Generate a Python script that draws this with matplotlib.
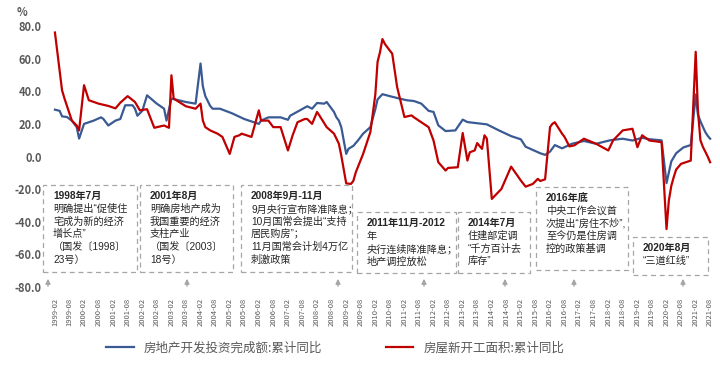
import numpy as np
import pandas as pd
import matplotlib
matplotlib.use("Agg")
import matplotlib.pyplot as plt
from matplotlib.patches import Rectangle, FancyArrowPatch

plt.rcParams['font.family'] = ['Noto Sans CJK SC', 'DejaVu Sans']
plt.rcParams['axes.unicode_minus'] = False

#### data ####
# 房地产开发投资完成额:累计同比 (blue)
inv_dates = ['1999-02', '1999-04', '1999-05', '1999-07', '1999-09', '1999-11', '1999-12',
             '2000-02', '2000-06', '2000-09', '2000-10', '2000-12', '2001-03', '2001-05',
             '2001-07', '2001-10', '2001-11', '2001-12', '2002-02', '2002-04', '2002-08',
             '2002-11', '2002-12', '2003-02', '2003-05', '2003-08', '2003-12', '2004-02',
             '2004-03', '2004-04', '2004-06', '2004-07', '2004-10', '2005-03', '2005-08',
             '2005-12', '2006-02', '2006-03', '2006-06', '2006-11', '2007-02', '2007-03',
             '2007-07', '2007-10', '2007-12', '2008-02', '2008-05', '2008-06', '2008-09',
             '2008-10', '2008-11', '2008-12', '2009-02', '2009-03', '2009-05', '2009-07',
             '2009-09', '2009-12', '2010-02', '2010-03', '2010-05', '2010-08', '2010-12',
             '2011-03', '2011-06', '2011-09', '2011-12', '2012-02', '2012-04', '2012-07',
             '2012-11', '2013-02', '2013-04', '2013-12', '2014-05', '2014-10', '2015-02',
             '2015-04', '2015-07', '2015-10', '2015-12', '2016-02', '2016-04', '2016-07',
             '2016-11', '2017-04', '2017-09', '2018-03', '2018-08', '2018-12', '2019-04',
             '2019-07', '2019-12', '2020-02', '2020-04', '2020-06', '2020-09', '2020-12',
             '2021-02', '2021-03', '2021-04', '2021-05', '2021-06', '2021-07', '2021-08']
inv_vals = [28.7, 28.0, 24.6, 24.2, 22.0, 18.0, 11.0,
            20.0, 22.0, 24.0, 23.0, 19.0, 22.0, 23.0,
            31.4, 31.4, 29.3, 25.0, 28.0, 37.5, 32.4,
            29.3, 22.0, 35.5, 34.5, 33.4, 32.4, 57.0,
            43.0, 37.0, 31.0, 29.3, 29.3, 26.5, 23.0,
            21.0, 20.0, 22.0, 24.0, 24.0, 22.5, 25.0,
            28.3, 30.8, 29.3, 32.8, 32.4, 33.4, 27.3,
            24.0, 22.0, 18.0, 1.6, 4.7, 6.5, 10.0,
            14.0, 18.0, 29.0, 35.0, 38.2, 37.0, 35.5,
            34.5, 34.0, 32.4, 28.0, 27.3, 19.1, 15.6,
            16.0, 22.6, 21.1, 19.7, 16.0, 12.5, 10.5,
            6.0, 4.0, 2.0, 1.0, 3.0, 7.0, 5.0,
            7.8, 9.5, 7.8, 10.0, 10.9, 9.8, 11.5,
            10.6, 9.9, -16.3, -3.0, 2.0, 5.6, 7.0,
            38.0, 25.6, 21.6, 18.3, 15.0, 12.7, 10.9]

# 房屋新开工面积:累计同比 (red)
new_dates = ['1999-02', '1999-05', '1999-06', '1999-09', '1999-11', '1999-12', '2000-02',
             '2000-04', '2000-08', '2000-12', '2001-03', '2001-05', '2001-08', '2001-11',
             '2002-01', '2002-04', '2002-07', '2002-11', '2003-01', '2003-02', '2003-03',
             '2003-08', '2003-12', '2004-02', '2004-03', '2004-04', '2004-06', '2004-09',
             '2004-11', '2005-02', '2005-04', '2005-06', '2005-07', '2005-11', '2006-02',
             '2006-03', '2006-06', '2006-08', '2006-11', '2007-02', '2007-04', '2007-06',
             '2007-09', '2007-10', '2007-12', '2008-02', '2008-03', '2008-06', '2008-09',
             '2008-11', '2008-12', '2009-02', '2009-04', '2009-05', '2009-06', '2009-09',
             '2009-12', '2010-02', '2010-03', '2010-04', '2010-05', '2010-06', '2010-07',
             '2010-09', '2010-11', '2011-02', '2011-05', '2011-06', '2011-08', '2011-12',
             '2012-02', '2012-04', '2012-07', '2012-08', '2012-12', '2013-02', '2013-04',
             '2013-05', '2013-07', '2013-08', '2013-10', '2013-11', '2013-12', '2014-02',
             '2014-06', '2014-10', '2015-02', '2015-04', '2015-07', '2015-09', '2015-10',
             '2015-12', '2016-02', '2016-03', '2016-04', '2016-07', '2016-08', '2016-10',
             '2016-12', '2017-04', '2017-09', '2018-02', '2018-04', '2018-08', '2018-12',
             '2019-02', '2019-04', '2019-07', '2019-12', '2020-02', '2020-03', '2020-04',
             '2020-05', '2020-06', '2020-08', '2020-12', '2021-02', '2021-03', '2021-04',
             '2021-05', '2021-06', '2021-07', '2021-08']
new_vals = [76.0, 40.6, 35.5, 22.0, 19.0, 16.0, 43.7,
            34.5, 32.4, 31.0, 29.5, 33.0, 37.0, 33.4,
            28.3, 29.0, 17.6, 19.0, 17.6, 49.8, 35.5,
            30.8, 29.3, 32.4, 22.0, 18.0, 16.0, 14.0,
            12.0, 1.6, 12.0, 13.0, 14.0, 12.0, 28.3,
            22.0, 22.0, 18.0, 18.0, 3.7, 13.0, 21.0,
            23.0, 23.0, 20.0, 27.3, 25.2, 18.0, 14.0,
            7.8, 0.6, -16.5, -16.8, -15.0, -9.7, 1.6,
            15.0, 38.0, 58.0, 64.0, 72.0, 69.0, 67.0,
            63.0, 42.7, 24.2, 25.2, 24.0, 22.0, 18.0,
            9.8, -3.5, -8.6, -7.0, -6.6, 14.4, -2.5,
            2.6, 3.7, 8.2, 4.7, 13.0, 10.9, -26.0,
            -19.9, -6.2, -14.8, -18.5, -16.8, -13.7, -15.0,
            -14.0, 18.0, 20.0, 21.0, 14.0, 12.0, 6.2,
            6.8, 10.9, 7.8, 3.7, 9.8, 16.0, 17.0,
            5.7, 13.0, 9.8, 8.8, -44.5, -27.0, -18.0,
            -12.7, -8.0, -4.5, -2.5, 64.2, 28.0, 10.0,
            6.0, 3.0, 0.0, -3.5]

inv_label = '房地产开发投资完成额:累计同比'
new_label = '房屋新开工面积:累计同比'
y_ticks = [80, 60, 40, 20, 0, -20, -40, -60, -80]

# policy notes: (text lines, box left/top/right/bottom in px, arrow x in px)
notes = [
    (['1998年7月', '明确提出“促使住', '宅成为新的经济', '增长点”', '（国发〔1998〕', '23号）'],
     (43, 185, 137, 272), 48),
    (['2001年8月', '明确房地产成为', '我国重要的经济', '支柱产业', '（国发〔2003〕', '18号）'],
     (140, 185, 233, 272), 187),
    (['2008年9月-11月', '9月央行宣布降准降息；', '10月国常会提出“支持', '居民购房”；',
      '11月国常会计划4万亿', '刺激政策'],
     (241, 185, 352, 272), 338),
    (['2011年11月-2012', '年', '央行连续降准降息；', '地产调控放松'],
     (357, 212, 456, 273), 424),
    (['2014年7月', '住建部定调', '“千方百计去', '库存”'],
     (458, 212, 530, 273), 505),
    (['2016年底', '中央工作会议首', '次提出“房住不炒”,', '至今仍是住房调', '控的政策基调'],
     (536, 187, 628, 270), 574),
    (['2020年8月', '“三道红线”'],
     (633, 237, 708, 275), 683),
]

W, H = 720, 374
def fx(px):
    return px / W
def fy(py):
    return 1 - py / H

fig = plt.figure(figsize=(7.2, 3.74), dpi=100)
ax = fig.add_axes([fx(50), fy(287), fx(715) - fx(50), fy(26) - fy(287)])

ax.plot(pd.to_datetime(inv_dates, format='%Y-%m'), inv_vals, color='#3a5a94', lw=1.6, label=inv_label)
ax.plot(pd.to_datetime(new_dates, format='%Y-%m'), new_vals, color='#c00000', lw=1.6, label=new_label)

ax.set_ylim(-80, 80)
ax.set_yticks(y_ticks)
ax.set_yticklabels(['%.1f' % v for v in y_ticks], fontsize=8, color='#595959', fontweight='bold')
ax.set_xlim(pd.Timestamp('1998-12-01'), pd.Timestamp('2021-10-01'))
xt = pd.date_range('1999-02-01', periods=46, freq='6MS')
ax.set_xticks(xt)
ax.set_xticklabels([d.strftime('%Y-%m') for d in xt], rotation=90, fontsize=5.5, color='#595959')
ax.tick_params(length=0)
ax.tick_params(axis='x', pad=8)
ax.tick_params(axis='y', pad=6)
for s in ax.spines.values():
    s.set_visible(False)

fig.text(fx(22), fy(12), '%', fontsize=8, color='#595959', ha='center', va='center', fontweight='bold')

# annotation boxes, quotes/digits drawn narrow with Liberation Sans first
note_font = ['Liberation Sans', 'Noto Sans CJK SC']
for lines, (x0, y0, x1, y1), ax_x in notes:
    fig.add_artist(Rectangle((fx(x0), fy(y1)), fx(x1) - fx(x0), fy(y0) - fy(y1),
                             transform=fig.transFigure, facecolor='white', edgecolor='#a6a6a6',
                             ls=(0, (4, 3)), lw=0.9, zorder=3))
    for i, t in enumerate(lines):
        fig.text(fx(x0 + 10), fy(y0 + 11 + i * 12.8), t, fontsize=7.3, family=note_font,
                 fontweight='bold' if i == 0 else 'normal', color='#262626',
                 ha='left', va='center', zorder=4)
    fig.add_artist(FancyArrowPatch(
        (fx(ax_x), fy(289)), (fx(ax_x), fy(276)), transform=fig.transFigure,
        arrowstyle='-|>', mutation_scale=7, color='#a6a6a6', lw=1))

fig.legend(loc='center', bbox_to_anchor=(fx(335), fy(348)), ncol=2, frameon=False,
           fontsize=9, handlelength=2.2, columnspacing=5.1, labelcolor='#595959')

fig.savefig('out.png', dpi=100)
